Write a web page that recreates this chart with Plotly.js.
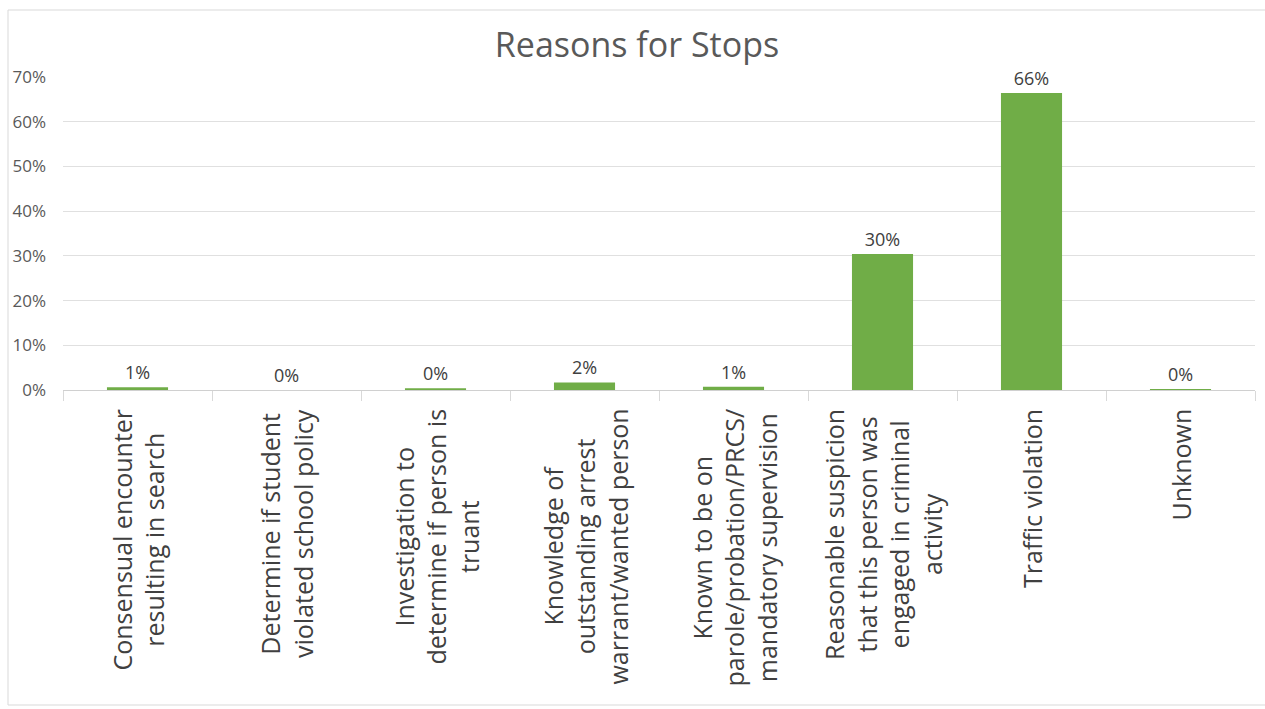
<!DOCTYPE html>
<html>
<head>
<meta charset="utf-8">
<script src="https://cdn.plot.ly/plotly-3.0.1.min.js"></script>
<style>
html,body{margin:0;padding:0;background:#fff;}
#chart{width:1265px;height:709px;}
</style>
</head>
<body>
<div id="chart"></div>
<script>
var categories = [
  "Consensual encounter<br>resulting in search",
  "Determine if student<br>violated school policy",
  "Investigation to<br>determine if person is<br>truant",
  "Knowledge of<br>outstanding arrest<br>warrant/wanted person",
  "Known to be on<br>parole/probation/PRCS/<br>mandatory supervision",
  "Reasonable suspicion<br>that this person was<br>engaged in criminal<br>activity",
  "Traffic violation",
  "Unknown"
];
var values = [0.006, 0.0, 0.004, 0.017, 0.007, 0.304, 0.664, 0.002];
var yTicks = [0, 0.1, 0.2, 0.3, 0.4, 0.5, 0.6, 0.7];

var W = 1265, H = 709;
var L = 63, R = 10, T = 77, B = 319;
var pw = W - L - R, ph = H - T - B;

var trace = {
  type: 'bar',
  x: categories,
  y: values,
  marker: {color: '#70ad47'},
  texttemplate: '%{y:.0%}',
  textposition: 'outside',
  cliponaxis: false,
  textfont: {family: 'Open Sans, sans-serif', size: 18, color: '#404040'},
  hoverinfo: 'none'
};

var annotations = categories.map(function(c){
  return {
    x: c, xref: 'x', y: 0, yref: 'paper',
    yshift: -17,
    text: c, showarrow: false, textangle: -90,
    xanchor: 'center', yanchor: 'top', align: 'center',
    font: {family: 'Open Sans, sans-serif', size: 25, color: '#404040'}
  };
});

var layout = {
  width: W, height: H,
  margin: {l: L, r: R, t: T, b: B, pad: 0},
  paper_bgcolor: '#ffffff',
  plot_bgcolor: '#ffffff',
  bargap: 0.59,
  showlegend: false,
  title: {
    text: 'Reasons for Stops',
    font: {family: 'Open Sans, sans-serif', size: 34, color: '#595959'},
    x: 637 / W, xanchor: 'center', xref: 'container',
    y: 1 - 45 / H, yanchor: 'middle', yref: 'container'
  },
  xaxis: {
    type: 'category',
    showticklabels: false,
    showline: true, linecolor: '#d0d0d0', linewidth: 1,
    ticks: 'outside', tickson: 'boundaries', ticklen: 10, tickcolor: '#d9d9d9',
    showgrid: false, zeroline: false, fixedrange: true
  },
  yaxis: {
    range: [0, 0.7],
    tickvals: yTicks,
    tickformat: '.0%',
    showgrid: true, gridcolor: '#e0e0e0', gridwidth: 1,
    zeroline: false, showline: false, ticks: '',
    ticklabelstandoff: 16,
    tickfont: {family: 'Open Sans, sans-serif', size: 17, color: '#595959'},
    fixedrange: true
  },
  annotations: annotations,
  shapes: [{
    type: 'rect', xref: 'paper', yref: 'paper',
    x0: (8 - L) / pw, x1: (W + 20 - L) / pw,
    y0: (T + ph - 705) / ph, y1: (T + ph - 10) / ph,
    line: {color: '#d9d9d9', width: 1}, fillcolor: 'rgba(0,0,0,0)', layer: 'below'
  }]
};

Plotly.newPlot('chart', [trace], layout, {displayModeBar: false, staticPlot: true});
</script>
</body>
</html>
